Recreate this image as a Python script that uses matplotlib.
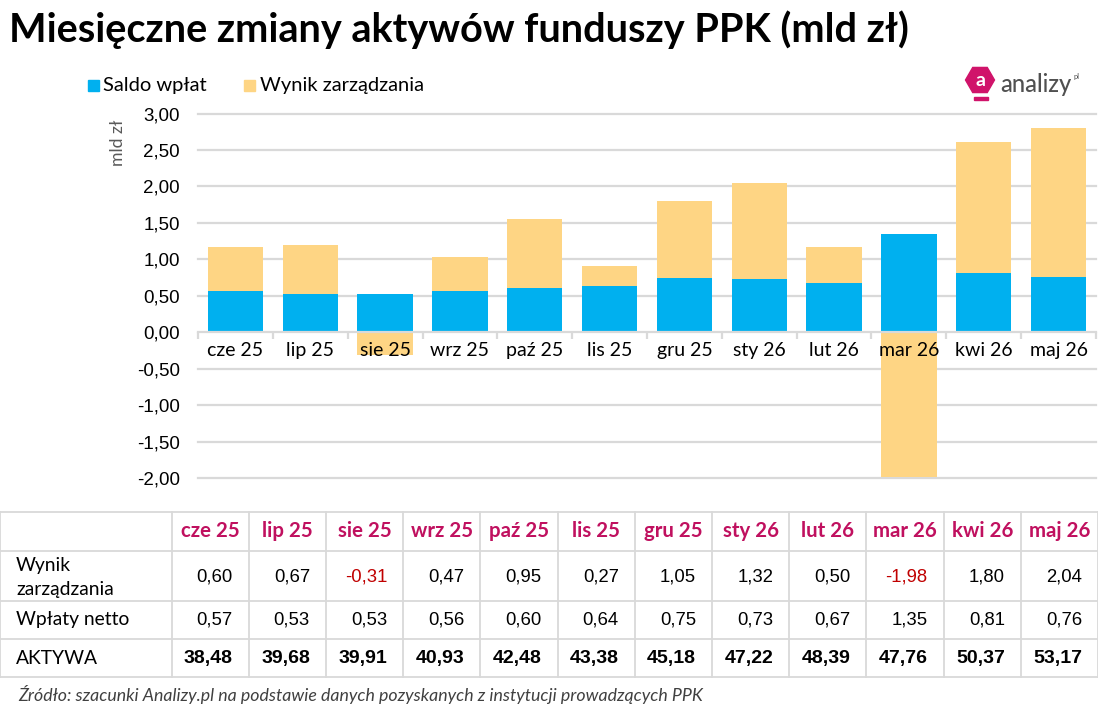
import matplotlib
matplotlib.use("Agg")
import math
import matplotlib.pyplot as plt
from matplotlib.patches import Rectangle, RegularPolygon
from matplotlib.lines import Line2D
from matplotlib.transforms import IdentityTransform

W, H = 1098, 708

months = ["cze 25", "lip 25", "sie 25", "wrz 25", "paź 25", "lis 25",
          "gru 25", "sty 26", "lut 26", "mar 26", "kwi 26", "maj 26"]
wynik = [0.60, 0.67, -0.31, 0.47, 0.95, 0.27, 1.05, 1.32, 0.50, -1.98, 1.80, 2.04]
wplaty = [0.57, 0.53, 0.53, 0.56, 0.60, 0.64, 0.75, 0.73, 0.67, 1.35, 0.81, 0.76]
aktywa = [38.48, 39.68, 39.91, 40.93, 42.48, 43.38, 45.18, 47.22, 48.39, 47.76, 50.37, 53.17]
yticks = [3.0, 2.5, 2.0, 1.5, 1.0, 0.5, 0.0, -0.5, -1.0, -1.5, -2.0]

BLUE = "#00B0EF"
ORANGE = "#FED584"
GRID = "#D9D9D9"
MAGENTA = "#C0105F"
RED = "#C00000"
SANS = ["Lato", "DejaVu Sans"]
ARIAL = ["Liberation Sans", "DejaVu Sans"]

fig = plt.figure(figsize=(W / 100, H / 100), dpi=100)
PIX = IdentityTransform()


def fx(x):
    return x / W


def fy(y):
    return 1 - y / H


# ---- title
fig.text(fx(9), fy(30), "Miesięczne zmiany aktywów funduszy PPK (mld zł)",
         fontsize=28.5, fontweight="bold", family=SANS, va="center", ha="left")

# ---- chart axes
ax_l, ax_r, ax_t, ax_b = 198, 1096, 113.5, 478
ax = fig.add_axes([fx(ax_l), fy(ax_b), (ax_r - ax_l) / W, (ax_b - ax_t) / H])
ax.set_ylim(-2, 3)
ax.set_xlim(-0.5, len(months) - 0.5)
for v in yticks:
    if v != 0:
        ax.axhline(v, color=GRID, lw=1.6, zorder=0, clip_on=False)

x = list(range(len(months)))
bw = 0.74
ax.bar(x, wplaty, width=bw, color=BLUE, zorder=1, label="Saldo wpłat")
bottoms = [wp if w >= 0 else 0 for w, wp in zip(wynik, wplaty)]
ax.bar(x, wynik, width=bw, bottom=bottoms, color=ORANGE, zorder=1, label="Wynik zarządzania")

for s in ["top", "right", "left"]:
    ax.spines[s].set_visible(False)
ax.spines["bottom"].set_position(("data", 0))
ax.spines["bottom"].set_color(GRID)
ax.spines["bottom"].set_linewidth(1.6)
ax.spines["bottom"].set_zorder(2)
ax.set_xticks(x)
ax.set_xticklabels(months, family=SANS, fontsize=14)
ax.set_xticks([i - 0.5 for i in range(len(months) + 1)], minor=True)
ax.tick_params(axis="x", which="major", length=0, pad=7)
ax.tick_params(axis="x", which="minor", length=5, width=1.6, color=GRID, direction="out")
ax.set_yticks(yticks)
ax.set_yticklabels([f"{v:.2f}".replace(".", ",") for v in yticks], family=ARIAL, fontsize=13.5)
ax.tick_params(axis="y", length=0, pad=13)
for lab in ax.get_xticklabels():
    lab.set_zorder(5)

fig.text(fx(118), fy(143), "mld zł", rotation=90, fontsize=12.7, color="#595959",
         family=SANS, ha="center", va="center")

# ---- legend
fig.patches.append(Rectangle((fx(88), fy(91)), 11 / W, 11 / H, color=BLUE, transform=fig.transFigure))
fig.text(fx(103), fy(85), "Saldo wpłat", fontsize=14.5, family=SANS, va="center", ha="left")
fig.patches.append(Rectangle((fx(244), fy(91)), 11 / W, 11 / H, color=ORANGE, transform=fig.transFigure))
fig.text(fx(260), fy(85), "Wynik zarządzania", fontsize=14.5, family=SANS, va="center", ha="left")

# ---- logo
LOGO = "#D0136A"
fig.patches.append(RegularPolygon((980, H - 80), 6, radius=14.5, orientation=math.pi / 6,
                                  color=LOGO, transform=PIX))
fig.patches.append(Rectangle((974, H - 100), 14, 3, color=LOGO, transform=PIX))
fig.text(fx(980), fy(80), "a", color="white", fontsize=14, fontweight="bold",
         family=SANS, ha="center", va="center")
fig.text(fx(1000), fy(85), "analizy", color="#505050", fontsize=17, family=SANS,
         fontweight="medium", ha="left", va="center")
fig.text(fx(1073), fy(77), "pl", color="#505050", fontsize=5.5, family=SANS,
         ha="left", va="center")

# ---- table
col0 = 171.5
colw = (W - col0) / len(months)
rows = [512, 551, 601, 639, 677]
for ry in rows:
    fig.add_artist(Line2D([fx(0), fx(W)], [fy(ry), fy(ry)], color=GRID, lw=1.3))
xs = [0, col0] + [col0 + colw * (i + 1) for i in range(len(months))]
for cx in xs:
    fig.add_artist(Line2D([fx(cx), fx(cx)], [fy(rows[0]), fy(rows[-1])], color=GRID, lw=1.3))


def fmt(v):
    return f"{v:.2f}".replace(".", ",")


for i, m in enumerate(months):
    cl = col0 + colw * i
    cr = cl + colw
    fig.text(fx((cl + cr) / 2), fy(531), m, color=MAGENTA, fontweight="bold",
             fontsize=14.7, family=SANS, ha="center", va="center")
    fig.text(fx(cr - 16), fy(577), fmt(wynik[i]), color=RED if wynik[i] < 0 else "black",
             fontsize=13.3, family=ARIAL, ha="right", va="center")
    fig.text(fx(cr - 16), fy(620), fmt(wplaty[i]), color="black",
             fontsize=13.3, family=ARIAL, ha="right", va="center")
    fig.text(fx(cr - 16), fy(658), fmt(aktywa[i]), color="black", fontweight="bold",
             fontsize=14, family=ARIAL, ha="right", va="center")

fig.text(fx(16), fy(565), "Wynik", fontsize=13.9, family=SANS, ha="left", va="center")
fig.text(fx(16), fy(590), "zarządzania", fontsize=13.9, family=SANS, ha="left", va="center")
fig.text(fx(16), fy(620), "Wpłaty netto", fontsize=13.9, family=SANS, ha="left", va="center")
fig.text(fx(16), fy(658), "AKTYWA", fontsize=13.9, family=SANS, ha="left", va="center")

fig.text(fx(18), fy(694), "Źródło: szacunki Analizy.pl na podstawie danych pozyskanych z instytucji prowadzących PPK",
         fontsize=12.8, style="italic", fontweight="normal", color="#404040", family=SANS,
         ha="left", va="center")

fig.savefig("out.png", dpi=100)
